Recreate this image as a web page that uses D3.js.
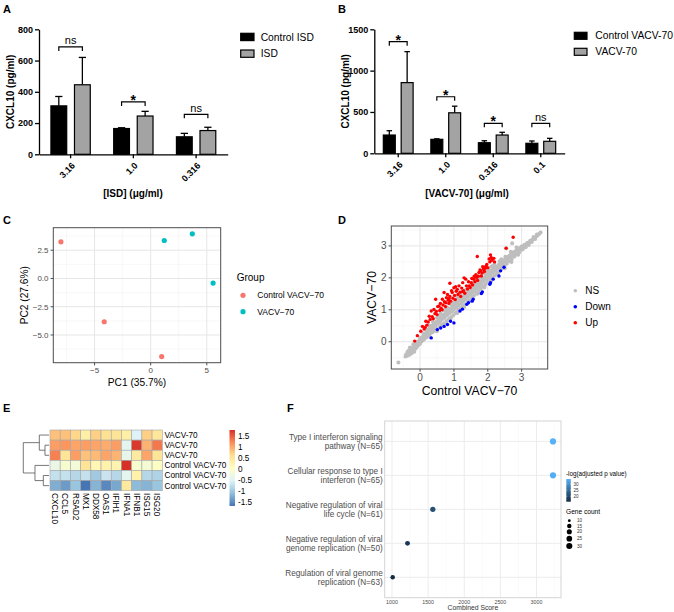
<!DOCTYPE html>
<html><head><meta charset="utf-8">
<script src="https://cdn.jsdelivr.net/npm/d3@7"></script>
<style>body{margin:0;background:#fff}svg{display:block}</style>
</head><body><svg id="fig" width="674" height="612"></svg>
<script>
// ================= DATA =================
// Panel A
const dosesA = ["3.16","1.0","0.316"];
const groupsA = ["Control ISD","ISD"];
const meanCtrlA = [310,165,112];
const semCtrlA = [60,5,22];
const meanTrtA = [445,245,152];
const semTrtA = [175,30,21];
const sigA = ["ns","*","ns"];
const sigLevelA = [687,335,256];
const yTicksA = [0,200,400,600,800];
// Panel B
const dosesB = ["3.16","1.0","0.316","0.1"];
const groupsB = ["Control VACV-70","VACV-70"];
const meanCtrlB = [221,169,128,121];
const semCtrlB = [52,6,24,28];
const meanTrtB = [855,490,221,145];
const semTrtB = [375,80,33,36];
const sigB = ["*","*","*","ns"];
const sigLevelB = [1350,684,363,363];
const yTicksB = [0,500,1000,1500];
// Panel C (PCA)
const groupC = ["Control VACV−70","Control VACV−70","Control VACV−70","VACV−70","VACV−70","VACV−70"];
const pc1C = [-8.0,-4.14,0.98,1.21,3.71,5.56];
const pc2C = [3.24,-3.83,-6.91,3.36,3.95,-0.41];
const ticksCx = [-5,0,5];
const ticksCy = [-5,-2.5,0,2.5];
// Panel D (scatter) [Control, VACV]
const nsD = [[-0.64,-0.65],
[-0.43,-0.46],[-0.41,-0.39],[-0.38,-0.44],[-0.37,-0.31],[-0.35,-0.37],[-0.33,-0.27],[-0.31,-0.41],[-0.29,-0.33],[-0.27,-0.22],[-0.25,-0.36],[-0.23,-0.28],[-0.21,-0.17],[-0.19,-0.25],[-0.17,-0.31],[-0.15,-0.12],[-0.13,-0.21],[-0.11,-0.06],[-0.09,-0.16],[-0.07,-0.01],[-0.05,-0.10],[-0.02,0.04],[0.00,-0.06],[0.02,0.10],[0.04,0.01],[0.07,0.15],[0.09,0.05],[0.11,0.21],[0.13,0.09],[0.16,0.26],[0.18,0.13],[0.20,0.32],[0.22,0.18],[0.25,0.37],[0.27,0.22],[0.29,0.43],[0.31,0.27],[0.33,0.35],[0.35,0.50],[0.37,0.30],[0.40,0.44],[0.42,0.57],[0.44,0.35],[0.46,0.51],[0.49,0.63],[0.51,0.41],[0.53,0.58],[0.55,0.70],[0.58,0.47],[0.60,0.64],[0.62,0.77],[0.64,0.53],[0.67,0.71],[0.69,0.84],[0.71,0.58],[0.73,0.76],[0.76,0.90],[0.78,0.65],[0.80,0.83],[0.82,0.97],[0.85,0.71],[0.87,0.89],[0.89,1.04],[0.91,0.77],[0.94,0.95],[0.96,1.10],[0.98,0.83],[1.00,1.01],[1.03,1.17],[1.05,0.90],[1.07,1.07],[1.09,1.24],[1.12,0.97],[1.14,1.14],[1.16,1.30],[1.18,1.03],[1.21,1.20],[1.23,1.37],[1.25,1.10],[1.27,1.27],[1.30,1.43],[1.32,1.16],[1.34,1.33],[1.36,1.50],[1.39,1.23],[1.41,1.40],[1.43,1.56],[1.45,1.30],[1.48,1.47],[1.50,1.63],[1.52,1.37],[1.54,1.54],[1.57,1.69],[1.59,1.44],[1.61,1.60],[1.63,1.76],[1.66,1.51],[1.68,1.67],[1.70,1.82],[1.72,1.58],[1.75,1.74],[1.77,1.89],[1.79,1.65],[1.81,1.81],[1.84,1.95],[1.86,1.72],[1.88,1.88],[1.91,2.02],[1.93,1.79],[1.95,1.95],[1.97,2.09],[2.00,1.87],[2.02,2.02],[2.04,2.16],[2.07,1.94],[2.09,2.09],[2.11,2.23],[2.14,2.01],[2.16,2.16],[2.18,2.29],[2.21,2.08],[2.23,2.22],[2.25,2.35],[2.28,2.15],[2.30,2.29],[2.33,2.41],[2.35,2.22],[2.37,2.36],[2.40,2.47],[2.42,2.29],[2.44,2.43],[2.47,2.54],[2.49,2.37],[2.52,2.50],[2.54,2.60],[2.56,2.44],[2.59,2.57],[2.61,2.67],[2.64,2.52],[2.66,2.64],[2.69,2.73],[2.71,2.59],[2.74,2.70],[2.76,2.80],[2.79,2.67],[2.81,2.77],[2.84,2.86],[2.86,2.74],[2.89,2.84],[2.92,2.92],[2.94,2.81],[2.97,2.90],[3.00,2.98],[3.03,2.89],[3.06,2.97],[3.09,3.04],[3.12,2.96],[3.15,3.04],[3.18,3.10],[3.21,3.03],[3.24,3.11],[3.27,3.17],[3.30,3.12],[3.33,3.20],[3.37,3.25],[3.40,3.22],[3.44,3.30],[3.48,3.34],[3.52,3.38],[3.56,3.42],[2.72,3.08],[2.55,2.92],[1.96,2.32],[2.02,2.25],
[0.50,0.75],[0.70,0.98],[0.90,1.18],[1.10,1.38],[1.30,1.58],[1.50,1.78],[1.70,1.97],[1.90,2.15],[2.10,2.35],[0.61,0.88],[0.80,1.08],[1.01,1.28],[1.20,1.48],[1.40,1.68],[1.60,1.88],[1.80,2.06],[2.00,2.25],[2.20,2.42],[2.40,2.58],
[0.50,0.33],[0.90,0.72],[1.30,1.08],[1.70,1.50],[2.10,1.90],[2.50,2.30],[0.70,0.52],[1.10,0.90],[1.50,1.28],[1.90,1.70],[2.30,2.12],[0.30,0.14],[2.70,2.50],[2.90,2.72],
[0.05,0.08],[0.14,0.20],[0.23,0.29],[0.32,0.41],[0.41,0.50],[0.47,0.59],[0.56,0.66],[0.63,0.74],[0.72,0.83],[0.79,0.91],[0.86,0.98],[0.95,1.06],[1.02,1.13],[1.11,1.21],[1.19,1.30],[1.26,1.37],[1.35,1.45],[1.42,1.53],[1.49,1.58],[1.58,1.67],[1.65,1.75],[1.73,1.84],[1.80,1.90],[1.87,1.98],[1.96,2.07],[2.03,2.13],[2.12,2.20],[2.19,2.27],[2.27,2.35],[2.34,2.43],[2.43,2.50],[2.50,2.56],[2.58,2.64],[2.65,2.70],[2.73,2.77],[2.82,2.82],[2.90,2.90],[2.98,2.95],[3.07,3.01],[3.16,3.08],[3.25,3.15],[3.35,3.28],[3.45,3.36],
[0.38,0.62],[0.57,0.82],[0.75,1.00],[0.95,1.22],[1.15,1.42],[1.35,1.62],[1.55,1.83],[1.75,2.02],[1.95,2.20],[2.15,2.38],[2.35,2.52],[2.52,2.66],[2.68,2.82],[2.85,2.95],
[-0.30,-0.18],[-0.20,-0.08],[-0.10,0.00],[0.00,0.12],[0.10,0.26],[0.20,0.38],[0.28,0.50]];
const downD = [[2.38,2.22],[2.48,2.33],[2.33,2.06],[2.16,1.96],[2.08,1.85],[2.06,1.80],[1.84,1.56],[1.81,1.51],[1.57,1.33],[1.54,1.27],[1.43,1.22],[1.38,1.17],[1.18,0.96],[1.00,0.59],[0.81,0.54],[0.71,0.48],[0.61,0.43],[0.51,0.38],[0.33,0.12],[1.25,1.02],[0.90,0.64]];
const upD = [[-0.16,0.02],[-0.08,0.19],[0.02,0.33],[0.07,0.48],[0.12,0.40],[0.17,0.64],[0.20,0.52],[0.27,0.80],[0.24,0.62],[0.33,0.96],[0.30,0.70],[0.36,0.78],[0.41,1.01],[0.44,0.88],[0.46,1.33],[0.48,0.95],[0.52,1.10],[0.56,1.12],[0.58,0.98],[0.60,1.20],[0.62,1.05],[0.66,1.33],[0.68,1.15],[0.71,1.54],[0.72,1.25],[0.75,1.10],[0.76,1.22],[0.78,1.38],[0.81,1.48],[0.83,1.30],[0.85,1.20],[0.88,1.83],[0.88,1.42],[0.90,1.27],[0.93,1.60],[0.95,1.54],[0.97,1.36],[1.00,1.69],[1.02,1.45],[1.04,1.32],[1.07,1.58],[1.10,1.64],[1.12,1.48],[1.15,1.75],[1.18,1.55],[1.20,1.42],[1.23,1.68],[1.26,1.85],[1.28,1.60],[1.30,2.00],[1.32,1.52],[1.35,1.96],[1.37,1.75],[1.40,1.65],[1.43,1.88],[1.45,1.75],[1.48,1.70],[1.51,1.85],[1.53,1.98],[1.55,1.78],[1.59,1.96],[1.62,1.88],[1.65,2.10],[1.67,2.01],[1.69,2.67],[1.70,1.92],[1.72,2.05],[1.74,2.17],[1.77,2.25],[1.79,2.22],[1.81,2.06],[1.83,2.15],[1.85,2.35],[1.87,2.27],[1.90,2.20],[1.92,2.30],[1.94,2.36],[1.97,2.42],[2.00,2.32],[2.04,2.59],[2.06,2.50],[2.08,2.72],[2.10,2.64],[2.12,2.55],[2.14,2.59],[2.18,2.61],[2.20,2.50],[2.54,2.93],[2.75,3.27],[0.50,0.85],[0.39,0.72],[1.05,1.72],[1.60,2.05],[0.65,1.00],[0.15,0.45],[1.25,1.57],[0.86,1.35]];
const ticksD = [0,1,2,3];
const classesD = ["NS","Down","Up"];
// Panel E (heatmap, z-scores)
const genesE = ["CXCL10","CCL5","RSAD2","MX1","DDX58","OAS1","IFIH1","IFNA1","IFNB1","ISG15","ISG20"];
const samplesE = ["VACV-70","VACV-70","VACV-70","Control VACV-70","Control VACV-70","Control VACV-70"];
const zE = [
 [0.85,0.85,0.70,0.35,0.75,0.60,0.55,0.35,-0.55,0.75,0.50],
 [1.10,1.15,1.05,1.10,1.05,1.00,1.10,-0.45,1.75,0.95,1.35],
 [1.30,0.55,1.10,0.85,0.90,1.05,0.95,-0.40,0.45,1.05,0.55],
 [-0.35,-0.10,-0.20,0.55,0.20,0.30,0.25,1.80,-0.10,-0.15,0.00],
 [-0.75,-0.75,-0.85,-0.75,-1.00,-0.70,-0.85,-0.45,0.30,-0.85,-0.90],
 [-1.25,-1.40,-1.05,-1.70,-1.20,-1.55,-1.30,0.45,-1.15,-1.20,-1.05]];
const treeE = {h:7.7, children:[
  {h:2.9, children:[{leaf:0},{h:1.2, children:[{leaf:1},{leaf:2}]}]},
  {h:4.2, children:[{leaf:3},{h:1.7, children:[{leaf:4},{leaf:5}]}]}]};
const legendTicksE = [-1.5,-1,-0.5,0,0.5,1,1.5];
// Panel F (enrichment)
const termsF = [["Type I interferon signaling","pathway (N=65)"],["Cellular response to type I","interferon (N=65)"],["Negative regulation of viral","life cycle (N=61)"],["Negative regulation of viral","genome replication (N=50)"],["Regulation of viral genome","replication (N=63)"]];
const scoreF = [3228,3228,1565,1215,1010];
const logpF = [34.0,33.6,21.0,17.5,15.6];
const countF = [31,31,21,18,15];
const countBreaksF = [10,15,20,25,30];
const logpBreaksF = [20,25,30];
const scoreTicksF = [1000,1500,2000,2500,3000];

// ================= DRAWING =================
const FONT = "'Liberation Sans', Arial, Helvetica, sans-serif";
const svg = d3.select("#fig").attr("font-family", FONT);
svg.append("rect").attr("width",674).attr("height",612).attr("fill","#fff");

function T(p, x, y, s, size, o = {}) {
  const t = p.append("text").attr("x", x).attr("y", y).attr("font-size", size).text(s);
  if (o.anchor) t.attr("text-anchor", o.anchor);
  if (o.weight) t.attr("font-weight", o.weight);
  t.attr("fill", o.fill || "#000");
  if (o.dy) t.attr("dy", o.dy);
  if (o.rotate != null) t.attr("transform", `rotate(${o.rotate},${x},${y})`);
  return t;
}

// panel letters
[["A",3,13],["B",338,13],["C",3,224],["D",338,224],["E",3,412],["F",287,412]].forEach(d =>
  T(svg, d[1], d[2], d[0], 11, {weight: "bold"}));

// ---------- bar panels (A, B) ----------
function barPanel(c) {
  const g = svg.append("g");
  const x = d3.scaleBand().domain(c.doses).range([c.left, c.right]).paddingInner(0.373).paddingOuter(0.19);
  const xi = d3.scaleBand().domain(c.groups).range([0, x.bandwidth()]).paddingInner(0.33);
  const y = d3.scaleLinear().domain([0, d3.max(c.yTicks)]).range([c.bottom, c.top]);
  const bw = xi.bandwidth();
  c.doses.forEach((d, i) => {
    const vals = [[c.groups[0], c.ctrl[i], c.ctrlE[i]], [c.groups[1], c.trt[i], c.trtE[i]]];
    vals.forEach(([grp, m, e], j) => {
      const bx = x(d) + xi(grp), cx = bx + bw / 2;
      g.append("line").attr("x1", cx).attr("x2", cx).attr("y1", y(m)).attr("y2", y(m + e)).attr("stroke", "#000").attr("stroke-width", 1.3);
      g.append("line").attr("x1", cx - bw * 0.23).attr("x2", cx + bw * 0.23).attr("y1", y(m + e)).attr("y2", y(m + e)).attr("stroke", "#000").attr("stroke-width", 1.3);
      g.append("rect").attr("x", bx).attr("y", y(m)).attr("width", bw).attr("height", y(0) - y(m))
        .attr("fill", j ? "#a3a3a3" : "#000").attr("stroke", "#000").attr("stroke-width", 1.2);
    });
    const x1 = x(d) + xi(c.groups[0]) + bw / 2, x2 = x(d) + xi(c.groups[1]) + bw / 2, by = y(c.sigLvl[i]);
    g.append("path").attr("d", `M${x1},${by + 4}V${by}H${x2}V${by + 4}`).attr("fill", "none").attr("stroke", "#000").attr("stroke-width", 1.2);
    if (c.sig[i] === "*") T(g, (x1 + x2) / 2, by + 3, "*", 14, {anchor: "middle", weight: "bold"});
    else T(g, (x1 + x2) / 2, by - 2.5, c.sig[i], 11, {anchor: "middle"});
  });
  const ya = g.append("g").attr("transform", `translate(${c.left},0)`)
    .call(d3.axisLeft(y).tickValues(c.yTicks).tickFormat(d3.format("d")).tickSize(4).tickSizeOuter(0).tickPadding(2));
  ya.attr("font-family", FONT).attr("font-size", 9).attr("font-weight", "bold");
  ya.selectAll("path,line").attr("stroke", "#000").attr("stroke-width", 1.3);
  const xa = g.append("g").attr("transform", `translate(0,${c.bottom})`)
    .call(d3.axisBottom(x).tickSize(4).tickSizeOuter(0));
  xa.attr("font-family", FONT).attr("font-size", 9).attr("font-weight", "bold");
  xa.selectAll("path,line").attr("stroke", "#000").attr("stroke-width", 1.3);
  xa.selectAll(".tick text").attr("y", null).attr("dy", null).attr("text-anchor", "end")
    .attr("transform", "translate(5,12) rotate(-45)");
  T(g, c.yTitleX, (c.top + c.bottom) / 2, "CXCL10 (pg/ml)", 10, {anchor: "middle", weight: "bold", rotate: -90});
  T(g, c.xTitleX, 197, c.xTitle, 10, {anchor: "middle", weight: "bold"});
  c.groups.forEach((grp, j) => {
    g.append("rect").attr("x", c.legX).attr("y", c.legY[j]).attr("width", c.legW).attr("height", c.legH)
      .attr("fill", j ? "#a3a3a3" : "#000").attr("stroke", "#000").attr("stroke-width", 1.2);
    T(g, c.legTextX, c.legY[j] + c.legH / 2, grp, 10.3, {dy: "0.35em"});
  });
}
barPanel({doses: dosesA, groups: groupsA, ctrl: meanCtrlA, ctrlE: semCtrlA, trt: meanTrtA, trtE: semTrtA,
  sig: sigA, sigLvl: sigLevelA, yTicks: yTicksA, left: 39, right: 227.7, top: 29.3, bottom: 154.3,
  yTitleX: 14, xTitle: "[ISD] (μg/ml)", xTitleX: 133, legX: 240.7, legY: [33.3, 50], legW: 13.3, legH: 7.3, legTextX: 260.7});
barPanel({doses: dosesB, groups: groupsB, ctrl: meanCtrlB, ctrlE: semCtrlB, trt: meanTrtB, trtE: semTrtB,
  sig: sigB, sigLvl: sigLevelB, yTicks: yTicksB, left: 374.3, right: 564.7, top: 29.3, bottom: 153.3,
  yTitleX: 349, xTitle: "[VACV-70] (μg/ml)", xTitleX: 467, legX: 574.3, legY: [32.3, 48.3], legW: 12.7, legH: 7, legTextX: 595.3});

// ---------- ggplot style helper ----------
function expand(ext, f = 0.05) { const d = ext[1] - ext[0]; return [ext[0] - d * f, ext[1] + d * f]; }
function mids(t) { const s = t[1] - t[0]; const out = [t[0] - s / 2]; t.forEach(v => out.push(v + s / 2)); return out; }
function ggFrame(g, x, y, xt, yt, box, o) {
  const [L, R, Tp, B] = box;
  g.append("rect").attr("x", L).attr("y", Tp).attr("width", R - L).attr("height", B - Tp).attr("fill", "#fff");
  const inX = v => x(v) >= L && x(v) <= R, inY = v => y(v) >= Tp && y(v) <= B;
  if (xt) mids(xt).filter(inX).forEach(v => g.append("line").attr("x1", x(v)).attr("x2", x(v)).attr("y1", Tp).attr("y2", B).attr("stroke", o.minor).attr("stroke-width", 0.5));
  if (yt) mids(yt).filter(inY).forEach(v => g.append("line").attr("y1", y(v)).attr("y2", y(v)).attr("x1", L).attr("x2", R).attr("stroke", o.minor).attr("stroke-width", 0.5));
  if (xt) xt.forEach(v => g.append("line").attr("x1", x(v)).attr("x2", x(v)).attr("y1", Tp).attr("y2", B).attr("stroke", o.major).attr("stroke-width", 1));
  if (yt) yt.forEach(v => g.append("line").attr("y1", y(v)).attr("y2", y(v)).attr("x1", L).attr("x2", R).attr("stroke", o.major).attr("stroke-width", 1));
}
function ggBorder(g, box, col, w) {
  const [L, R, Tp, B] = box;
  g.append("rect").attr("x", L).attr("y", Tp).attr("width", R - L).attr("height", B - Tp).attr("fill", "none").attr("stroke", col).attr("stroke-width", w);
}

// ---------- Panel C ----------
{
  const g = svg.append("g");
  const box = [53.3, 220.7, 227.7, 362.7];
  const x = d3.scaleLinear().domain(expand(d3.extent(pc1C))).range([box[0], box[1]]);
  const y = d3.scaleLinear().domain(expand(d3.extent(pc2C))).range([box[3], box[2]]);
  ggFrame(g, x, y, ticksCx, ticksCy, box, {major: "#e6e6e6", minor: "#f0f0f0"});
  const col = d3.scaleOrdinal().domain(["Control VACV−70", "VACV−70"]).range(["#F8766D", "#00BFC4"]);
  pc1C.forEach((v, i) => g.append("circle").attr("cx", x(v)).attr("cy", y(pc2C[i])).attr("r", 2.6).attr("fill", col(groupC[i])));
  ggBorder(g, box, "#4d4d4d", 1);
  ticksCx.forEach(v => { g.append("line").attr("x1", x(v)).attr("x2", x(v)).attr("y1", box[3]).attr("y2", box[3] + 2.7).attr("stroke", "#4d4d4d");
    T(g, x(v), 373, d3.format("")(v).replace("-", "−"), 8, {anchor: "middle", fill: "#4d4d4d"}); });
  ticksCy.forEach(v => { g.append("line").attr("x1", box[0] - 2.7).attr("x2", box[0]).attr("y1", y(v)).attr("y2", y(v)).attr("stroke", "#4d4d4d");
    T(g, 48.5, y(v), d3.format(".1f")(v).replace("-", "−"), 8, {anchor: "end", fill: "#4d4d4d", dy: "0.35em"}); });
  T(g, (box[0] + box[1]) / 2, 385.5, "PC1 (35.7%)", 10.2, {anchor: "middle"});
  T(g, 28, (box[2] + box[3]) / 2, "PC2 (27.6%)", 10.2, {anchor: "middle", rotate: -90});
  T(g, 236.7, 281, "Group", 10);
  col.domain().forEach((k, i) => {
    g.append("circle").attr("cx", 243).attr("cy", 295.3 + i * 16.4).attr("r", 2.6).attr("fill", col(k));
    T(g, 257.3, 295.3 + i * 16.4, k, 8.5, {dy: "0.35em"});
  });
}

// ---------- Panel D ----------
{
  const g = svg.append("g");
  const box = [391.3, 547.7, 226, 369];
  const all = nsD.concat(downD, upD);
  const x = d3.scaleLinear().domain(expand(d3.extent(all, d => d[0]))).range([box[0], box[1]]);
  const y = d3.scaleLinear().domain(expand(d3.extent(all, d => d[1]))).range([box[3], box[2]]);
  ggFrame(g, x, y, ticksD, ticksD, box, {major: "#e6e6e6", minor: "#f0f0f0"});
  const col = d3.scaleOrdinal().domain(classesD).range(["#bebebe", "#0000ff", "#ff0000"]);
  [[nsD, "NS", 2.0], [downD, "Down", 1.7], [upD, "Up", 1.7]].forEach(([arr, k, r]) =>
    g.selectAll(null).data(arr).join("circle").attr("cx", d => x(d[0])).attr("cy", d => y(d[1])).attr("r", r).attr("fill", col(k)));
  ggBorder(g, box, "#4d4d4d", 1);
  ticksD.forEach(v => {
    g.append("line").attr("x1", x(v)).attr("x2", x(v)).attr("y1", box[3]).attr("y2", box[3] + 2.7).attr("stroke", "#4d4d4d");
    T(g, x(v), 380.5, String(v), 10, {anchor: "middle", fill: "#4d4d4d"});
    g.append("line").attr("x1", box[0] - 2.7).attr("x2", box[0]).attr("y1", y(v)).attr("y2", y(v)).attr("stroke", "#4d4d4d");
    T(g, 386.5, y(v), String(v), 10, {anchor: "end", fill: "#4d4d4d", dy: "0.35em"});
  });
  T(g, (box[0] + box[1]) / 2, 395, "Control VACV−70", 12.2, {anchor: "middle"});
  T(g, 376, (box[2] + box[3]) / 2, "VACV−70", 12.2, {anchor: "middle", rotate: -90});
  classesD.forEach((k, i) => {
    g.append("circle").attr("cx", 575.3).attr("cy", 290.7 + i * 16).attr("r", 1.8).attr("fill", col(k));
    T(g, 585.3, 290.7 + i * 16, k, 10, {dy: "0.35em"});
  });
}

// ---------- Panel E ----------
{
  const g = svg.append("g");
  const flat = zE.flat();
  const ext = d3.extent(flat);
  const pal = ["#4575B4", "#91BFDB", "#E0F3F8", "#FFFFBF", "#FEE090", "#FC8D59", "#D73027"];
  const color = d3.scaleLinear().domain(d3.range(7).map(i => ext[0] + (ext[1] - ext[0]) * i / 6)).range(pal);
  const x = d3.scaleBand().domain(d3.range(genesE.length)).range([50, 162.3]);
  const y = d3.scaleBand().domain(d3.range(samplesE.length)).range([430, 490.7]);
  zE.forEach((row, r) => row.forEach((v, c) =>
    g.append("rect").attr("x", x(c)).attr("y", y(r)).attr("width", x.bandwidth()).attr("height", y.bandwidth())
      .attr("fill", color(v)).attr("stroke", "#a6a6a6").attr("stroke-width", 0.6)));
  samplesE.forEach((s, r) => T(g, 164.5, y(r) + y.bandwidth() / 2, s, 8.2, {dy: "0.35em"}));
  genesE.forEach((s, c) => {
    const cx = x(c) + x.bandwidth() / 2;
    g.append("text").attr("x", cx).attr("y", 493).attr("font-size", 8.2).attr("dy", "0.35em")
      .attr("transform", `rotate(90,${cx},493)`).attr("fill", "#000").text(s);
  });
  const hx = d3.scaleLinear().domain([0, 7.7]).range([49, 23.3]);
  function node(n) {
    if (n.leaf != null) return {x: hx(0), y: y(n.leaf) + y.bandwidth() / 2};
    const a = node(n.children[0]), b = node(n.children[1]), nx = hx(n.h);
    g.append("path").attr("d", `M${a.x},${a.y}H${nx}V${b.y}H${b.x}`).attr("fill", "none").attr("stroke", "#555").attr("stroke-width", 0.8);
    return {x: nx, y: (a.y + b.y) / 2};
  }
  node(treeE);
  const cb = d3.scaleLinear().domain([-1.7, 1.8]).range([506, 430]);
  const grad = svg.append("defs").append("linearGradient").attr("id", "gE").attr("x1", 0).attr("x2", 0).attr("y1", 1).attr("y2", 0);
  pal.forEach((p, i) => grad.append("stop").attr("offset", ((color.domain()[i] - cb.domain()[0]) / (cb.domain()[1] - cb.domain()[0]))).attr("stop-color", p));
  g.append("rect").attr("x", 229.5).attr("y", cb(ext[1])).attr("width", 5.5).attr("height", cb(ext[0]) - cb(ext[1])).attr("fill", "url(#gE)");
  legendTicksE.forEach(v => T(g, 238, cb(v), String(v), 8.2, {dy: "0.35em"}));
}

// ---------- Panel F ----------
{
  const g = svg.append("g");
  const box = [384.7, 561, 421, 597.7];
  const x = d3.scaleLinear().domain(expand(d3.extent(scoreF))).range([box[0], box[1]]);
  const y = d3.scalePoint().domain(d3.range(termsF.length)).range([box[2], box[3]]).padding(0.6);
  ggFrame(g, x, null, scoreTicksF, null, box, {major: "#ececec", minor: "#f5f5f5"});
  termsF.forEach((t, i) => g.append("line").attr("x1", box[0]).attr("x2", box[1]).attr("y1", y(i)).attr("y2", y(i)).attr("stroke", "#ececec"));
  const lp = d3.extent(logpF);
  const col = d3.scaleLinear().domain(lp).range(["#132B43", "#56B1F7"]).interpolate(d3.interpolateLab);
  const sizeLim = [10, 31];
  const rr = d3.scaleLinear().domain([0, 1]).range([1.4, 3.1]);
  const rad = v => rr(Math.sqrt((v - sizeLim[0]) / (sizeLim[1] - sizeLim[0])));
  scoreF.forEach((s, i) => g.append("circle").attr("cx", x(s)).attr("cy", y(i)).attr("r", rad(countF[i])).attr("fill", col(logpF[i])));
  ggBorder(g, box, "#d4d4d4", 1);
  termsF.forEach((t, i) => {
    T(g, 382.7, y(i) - 1.3, t[0], 8.2, {anchor: "end", fill: "#4d4d4d"});
    T(g, 382.7, y(i) + 7.3, t[1], 8.2, {anchor: "end", fill: "#4d4d4d"});
  });
  scoreTicksF.forEach(v => T(g, x(v), 603.5, String(v), 5.3, {anchor: "middle", fill: "#4d4d4d"}));
  T(g, (box[0] + box[1]) / 2, 609.5, "Combined Score", 6.8, {anchor: "middle", fill: "#333"});
  T(g, 566, 475.5, "-log(adjusted p value)", 6.3);
  const cb = d3.scaleLinear().domain(lp).range([501.7, 479]);
  const grad = svg.append("defs").append("linearGradient").attr("id", "gF").attr("x1", 0).attr("x2", 0).attr("y1", 1).attr("y2", 0);
  d3.range(11).forEach(i => grad.append("stop").attr("offset", i / 10).attr("stop-color", col(lp[0] + (lp[1] - lp[0]) * i / 10)));
  g.append("rect").attr("x", 566.3).attr("y", 479).attr("width", 4.5).attr("height", 22.7).attr("fill", "url(#gF)");
  logpBreaksF.forEach(v => {
    g.append("line").attr("x1", 566.3).attr("x2", 567.3).attr("y1", cb(v)).attr("y2", cb(v)).attr("stroke", "#fff").attr("stroke-width", 0.5);
    g.append("line").attr("x1", 569.8).attr("x2", 570.8).attr("y1", cb(v)).attr("y2", cb(v)).attr("stroke", "#fff").attr("stroke-width", 0.5);
    T(g, 573.5, cb(v), String(v), 4.6, {dy: "0.35em", fill: "#333"});
  });
  T(g, 566, 513.7, "Gene count", 6.6);
  const ly = [520.7, 526, 531.7, 538.7, 546];
  countBreaksF.forEach((v, i) => {
    g.append("circle").attr("cx", 569.3).attr("cy", ly[i]).attr("r", rad(v)).attr("fill", "#000");
    T(g, 577, ly[i], String(v), 4.6, {dy: "0.35em", fill: "#333"});
  });
}
</script></body></html>
